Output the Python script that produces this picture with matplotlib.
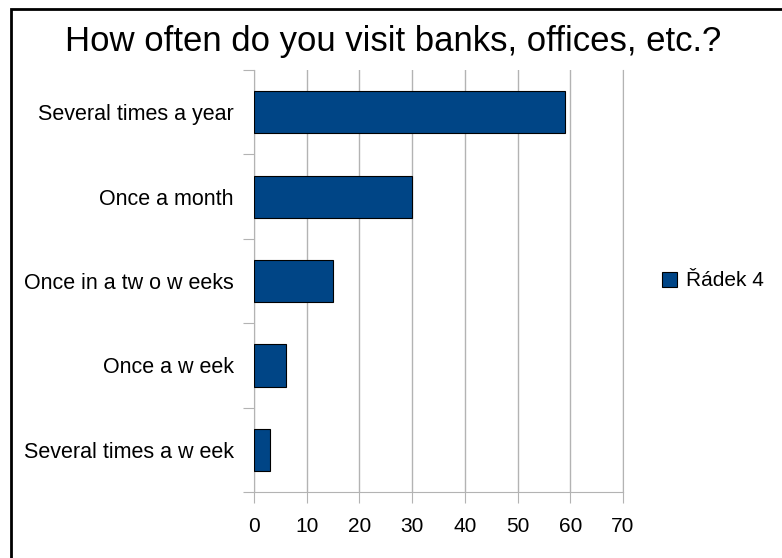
import matplotlib.pyplot as plt
from matplotlib.patches import Rectangle, Patch

plt.rcParams['font.family'] = ['Liberation Sans', 'DejaVu Sans']

# answers, bottom to top
categories = ['Several times a w eek', 'Once a w eek', 'Once in a tw o w eeks',
              'Once a month', 'Several times a year']
counts = [3, 6, 15, 30, 59]
series_name = 'Řádek 4'
x_ticks = [0, 10, 20, 30, 40, 50, 60, 70]

W, H = 782, 558
fig = plt.figure(figsize=(W / 100, H / 100), dpi=100)
fig.patch.set_facecolor('white')

# outer frame
fig.patches.append(Rectangle((11 / W, -0.05), 1.2, 1 - 9 / H + 0.05,
                             transform=fig.transFigure, fill=False,
                             edgecolor='black', linewidth=2))

ax = fig.add_axes([254 / W, 1 - 492 / H, (623 - 254) / W, (492 - 70) / H])
pos = range(len(categories))
ax.barh(pos, counts, height=0.5, color='#004586', edgecolor='black',
        linewidth=0.8, zorder=3)

ax.set_xlim(0, 70)
ax.set_ylim(-0.5, len(categories) - 0.5)
ax.set_xticks(x_ticks)
ax.tick_params(axis='x', length=8, color='#b3b3b3', labelsize=15, pad=10)
ax.grid(axis='x', color='#b3b3b3', linewidth=1, zorder=0)

# category separators as major ticks, names on minor ticks
ax.set_yticks([i - 0.5 for i in range(len(categories) + 1)])
ax.set_yticklabels([])
ax.set_yticks(list(pos), minor=True)
ax.set_yticklabels(categories, minor=True)
ax.tick_params(axis='y', which='major', length=8, color='#b3b3b3')
ax.tick_params(axis='y', which='minor', length=0, labelsize=15.5, pad=14.5)

for s in ax.spines.values():
    s.set_color('#b3b3b3')
ax.spines['top'].set_visible(False)

fig.text(393 / W, 1 - 42 / H, 'How often do you visit banks, offices, etc.?',
         ha='center', va='center', fontsize=25)

fig.legend(handles=[Patch(facecolor='#004586', edgecolor='black', linewidth=0.8,
                          label=series_name)],
           loc='center left', bbox_to_anchor=(643 / W, 1 - 281 / H),
           frameon=False, fontsize=15, handlelength=0.75, handleheight=0.75,
           handletextpad=0.4)

fig.savefig('out.png', dpi=100)
